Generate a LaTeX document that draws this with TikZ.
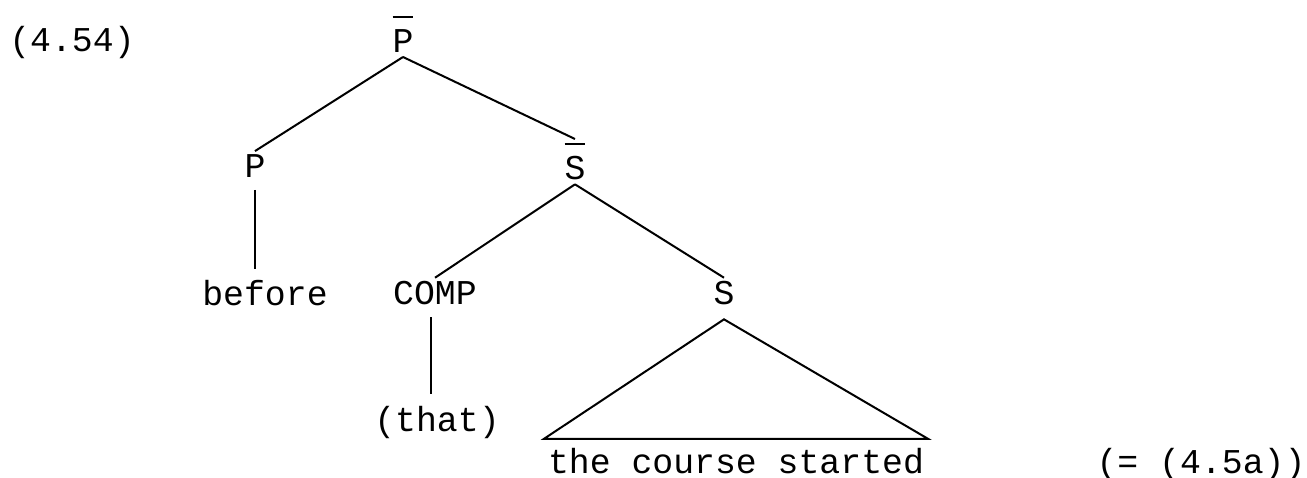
\documentclass[tikz,border=0pt]{standalone}
\usepackage{fontspec}
\setmonofont{Liberation Mono}
\newcommand{\barcat}[1]{\rlap{\raisebox{17.5pt}{\rule{10.4pt}{1pt}}}#1}
\tikzset{cat/.style={anchor=base, inner sep=1.5pt},
         stem/.style={shorten <=4pt, shorten >=4pt}}

\begin{document}
\begin{tikzpicture}[x=25pt, y=25pt, line width=1pt, font=\fontsize{17.4}{20}\selectfont\ttfamily]
    \useasboundingbox (0,0) rectangle (26.14,9.54);
    \node[cat] (num) at (1.44,8.50) {(4.54)};
    \node[cat] (pbar) at (8.06,8.48) {\barcat{P}};
    \node[cat] (p) at (5.10,5.98) {P};
    \node[cat] (sbar) at (11.50,5.94) {\barcat{S}};
    \node[cat] (before) at (5.30,3.42) {before};
    \node[cat] (comp) at (8.70,3.44) {COMP};
    \node[cat] (s) at (14.48,3.44) {S};
    \node[cat] (that) at (8.74,0.92) {(that)};
    \node[cat] (sent) at (14.72,0.08) {the course started};
    \node[cat] (eq) at (24.02,0.08) {(= (4.5a))};
    \draw (pbar.south) -- (p.north);
    \draw (pbar.south) -- (sbar.north);
    \draw[stem] (p.south) -- (p.south |- before.north);
    \draw (sbar.south) -- (comp.north);
    \draw (sbar.south) -- (s.north);
    \draw[stem] ([xshift=-2pt]comp.south) -- ([xshift=-2pt]comp.south |- that.north);
    % triangle over the unanalysed clause
    \draw ([yshift=-5pt]s.south) -- ([yshift=2.5pt]sent.north west)
          -- ([yshift=2.5pt]sent.north east) -- cycle;
\end{tikzpicture}
\end{document}
